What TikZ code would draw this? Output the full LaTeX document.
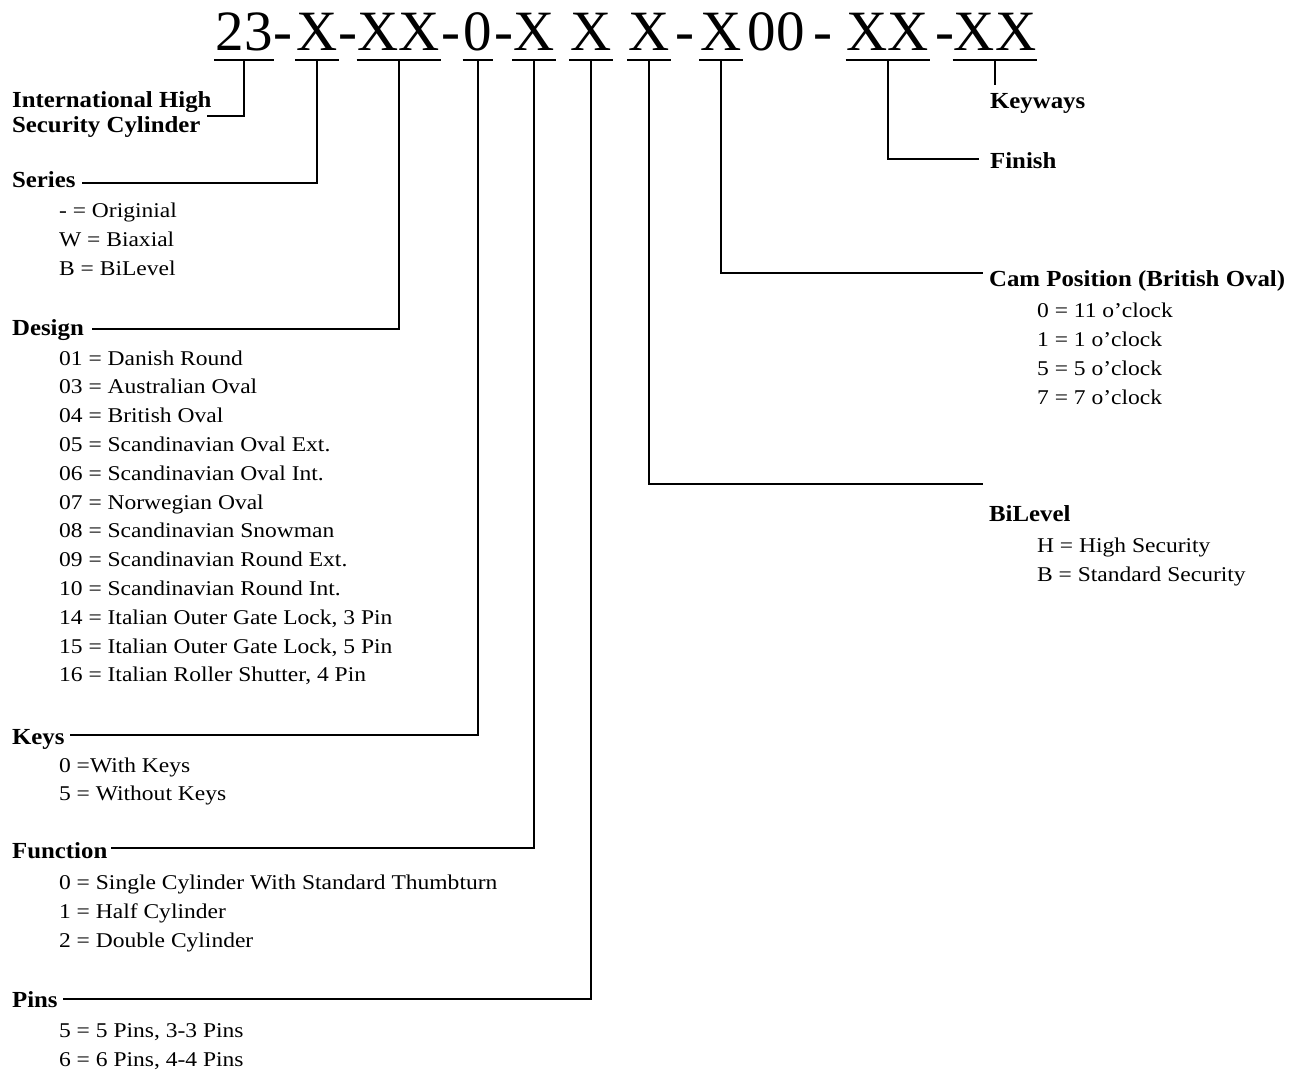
\documentclass[tikz,border=0pt]{standalone}
\usepackage{fontspec}
\usetikzlibrary{calc}
\setmainfont{Liberation Serif}
\newfontfamily\headfont[FakeStretch=1.08]{Liberation Serif}
\newfontfamily\itemfont[FakeStretch=1.12]{Liberation Serif}
\begin{document}
\begin{tikzpicture}[x=1pt,y=-1pt,line width=2.2pt,
  code/.style={anchor=base,inner sep=0pt,font=\fontsize{57}{60}\selectfont},
  head/.style={anchor=base west,inner sep=0pt,font=\headfont\bfseries\fontsize{23}{25}\selectfont},
  item/.style={anchor=base west,inner sep=0pt,font=\itemfont\fontsize{21}{24}\selectfont},
  uline/.style={line width=2.2pt},
  conn/.style={line width=2.2pt}]
\useasboundingbox (0,0) rectangle (1299,1072);

% code line
\node[code] (c23) at (244,50) {23};
\node[code] (h1) at (283,50) {-};
\node[code] (x1) at (317,50) {X};
\node[code] (h2) at (348,50) {-};
\node[code] (x2) at (399,50) {XX};
\node[code] (h3) at (451,50) {-};
\node[code] (z0) at (478,50) {0};
\node[code] (h4) at (504,50) {-};
\node[code] (x3) at (534,50) {X};
\node[code] (x4) at (591,50) {X};
\node[code] (x5) at (649,50) {X};
\node[code] (h5) at (685,50) {-};
\node[code] (x6) at (721,50) {X};
\node[code] (oo) at (776,50) {00};
\node[code] (h6) at (823,50) {-};
\node[code] (x7) at (888,50) {XX};
\node[code] (h7) at (945,50) {-};
\node[code] (x8) at (995,50) {XX};

% underlines
\foreach \n in {c23,x1,x2,z0,x3,x4,x5,x6,x7,x8}{
  \draw[uline] ([yshift=-10pt]\n.base west) -- ([yshift=-10pt]\n.base east);
}

% left labels
\node[head] (ih1) at (11,107) {International High};
\node[head] (ih2) at (11,132) {Security Cylinder};

\node[head] (series) at (11,187) {Series};
\node[item] (s1) at (58,217) {- = Originial};
\node[item] (s2) at (58,246) {W = Biaxial};
\node[item] (s3) at (58,275) {B = BiLevel};

\node[head] (design) at (11,335) {Design};
\node[item] (d1) at (58,365.0) {01 = Danish Round};
\node[item] (d2) at (58,393.8) {03 = Australian Oval};
\node[item] (d3) at (58,422.6) {04 = British Oval};
\node[item] (d4) at (58,451.4) {05 = Scandinavian Oval Ext.};
\node[item] (d5) at (58,480.2) {06 = Scandinavian Oval Int.};
\node[item] (d6) at (58,509.0) {07 = Norwegian Oval};
\node[item] (d7) at (58,537.8) {08 = Scandinavian Snowman};
\node[item] (d8) at (58,566.6) {09 = Scandinavian Round Ext.};
\node[item] (d9) at (58,595.4) {10 = Scandinavian Round Int.};
\node[item] (d10) at (58,624.2) {14 = Italian Outer Gate Lock, 3 Pin};
\node[item] (d11) at (58,653.0) {15 = Italian Outer Gate Lock, 5 Pin};
\node[item] (d12) at (58,681.8) {16 = Italian Roller Shutter, 4 Pin};

\node[head] (keys) at (11,744) {Keys};
\node[item] (k1) at (58,772) {0 =With Keys};
\node[item] (k2) at (58,800) {5 = Without Keys};

\node[head] (function) at (11,858) {Function};
\node[item] (f1) at (58,889) {0 = Single Cylinder With Standard Thumbturn};
\node[item] (f2) at (58,918) {1 = Half Cylinder};
\node[item] (f3) at (58,947) {2 = Double Cylinder};

\node[head] (pins) at (11,1007) {Pins};
\node[item] (p1) at (58,1037) {5 = 5 Pins, 3-3 Pins};
\node[item] (p2) at (58,1066) {6 = 6 Pins, 4-4 Pins};

% right labels
\node[head] (keyways) at (989,108) {Keyways};
\node[head] (finish) at (989,168) {Finish};
\node[head] (cam) at (988,286) {Cam Position (British Oval)};
\node[item] (cm1) at (1036,317) {0 = 11 o’clock};
\node[item] (cm2) at (1036,346) {1 = 1 o’clock};
\node[item] (cm3) at (1036,375) {5 = 5 o’clock};
\node[item] (cm4) at (1036,404) {7 = 7 o’clock};
\node[head] (bilevel) at (988,521) {BiLevel};
\node[item] (b1) at (1036,552) {H = High Security};
\node[item] (b2) at (1036,581) {B = Standard Security};

% connector end points
\coordinate (eIH) at ($(ih2.base east)+(5,-16)$);
\coordinate (eS) at ($(series.base east)+(5,-4)$);
\coordinate (eD) at ($(design.base east)+(7,-6)$);
\coordinate (eK) at ($(keys.base east)+(4,-9)$);
\coordinate (eFn) at ($(function.base east)+(3,-10)$);
\coordinate (eP) at ($(pins.base east)+(4,-8)$);
\coordinate (eBL) at ($(bilevel.base west)+(-5,-37)$);
\coordinate (eCam) at ($(cam.base west)+(-5,-13)$);
\coordinate (eFin) at ($(finish.base west)+(-10,-9)$);
\coordinate (eKw) at (995,85);

% connectors
\draw[conn] ([yshift=-10pt]c23.base) |- (eIH);
\draw[conn] ([yshift=-10pt]x1.base) |- (eS);
\draw[conn] ([yshift=-10pt]x2.base) |- (eD);
\draw[conn] ([yshift=-10pt]z0.base) |- (eK);
\draw[conn] ([yshift=-10pt]x3.base) |- (eFn);
\draw[conn] ([yshift=-10pt]x4.base) |- (eP);
\draw[conn] ([yshift=-10pt]x5.base) |- (eBL);
\draw[conn] ([yshift=-10pt]x6.base) |- (eCam);
\draw[conn] ([yshift=-10pt]x7.base) |- (eFin);
\draw[conn] ([yshift=-10pt]x8.base) -- (eKw);
\end{tikzpicture}
\end{document}
